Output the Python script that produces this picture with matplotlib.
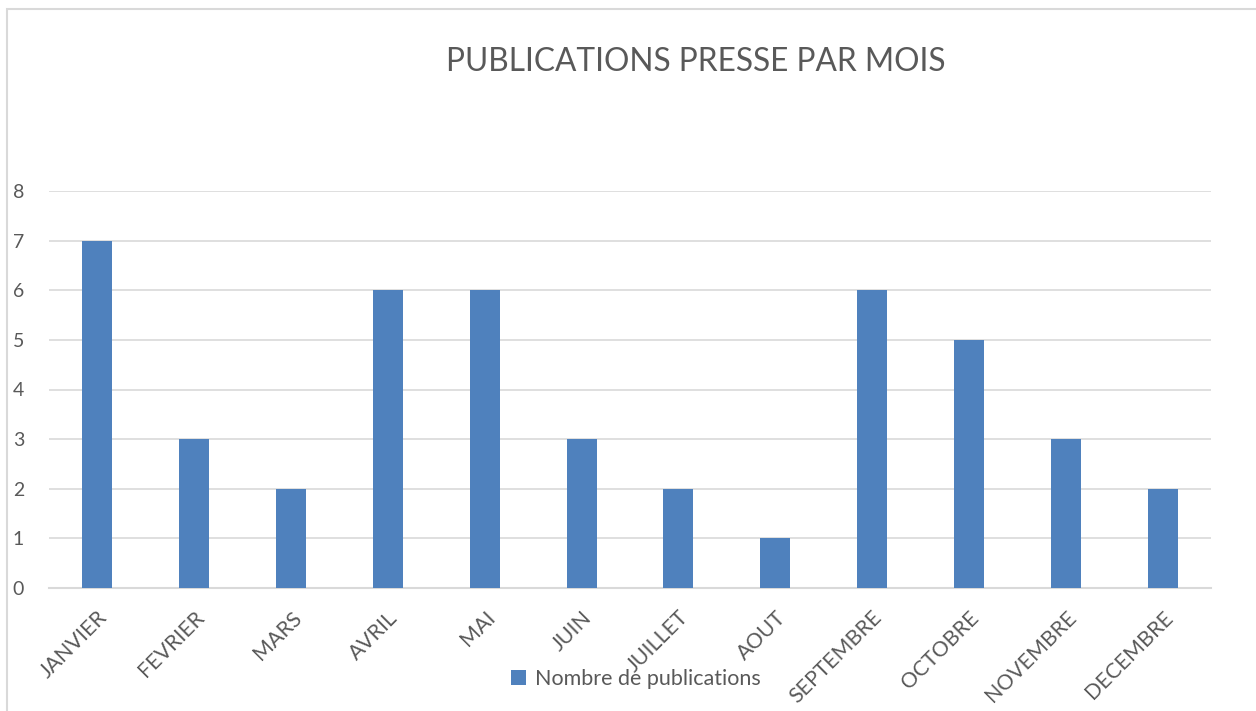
import matplotlib.pyplot as plt
from matplotlib.patches import Rectangle

# Data
mois = ["JANVIER", "FEVRIER", "MARS", "AVRIL", "MAI", "JUIN", "JUILLET",
        "AOUT", "SEPTEMBRE", "OCTOBRE", "NOVEMBRE", "DECEMBRE"]
publications = [7, 3, 2, 6, 6, 3, 2, 1, 6, 5, 3, 2]
y_ticks = [0, 1, 2, 3, 4, 5, 6, 7, 8]

plt.rcParams["font.family"] = ["Lato", "DejaVu Sans"]
text_color = "#595959"
grid_color = "#d9d9d9"
bar_color = "#4f81bd"

fig = plt.figure(figsize=(12.56, 7.11), dpi=100)

# Light border around the chart area
fig.patches.append(Rectangle((7 / 1256, -0.1), 1.2, 1 - 9 / 711 + 0.1,
                             transform=fig.transFigure, fill=False,
                             edgecolor=grid_color, linewidth=1.5))

ax = fig.add_axes([49 / 1256, 1 - 588 / 711, (1211 - 49) / 1256, (588 - 191) / 711])

x = range(len(mois))
ax.bar(x, publications, width=0.31, color=bar_color, label="Nombre de publications", zorder=3)

ax.set_xlim(-0.5, len(mois) - 0.5)
ax.set_ylim(0, 8)
ax.set_yticks(y_ticks)
ax.set_xticks(list(x))
ax.set_xticklabels(mois, rotation=45, ha="right", rotation_mode="anchor",
                   fontsize=15.3, color=text_color)
ax.tick_params(axis="y", labelsize=14, labelcolor=text_color, length=0, pad=22)
ax.tick_params(axis="x", length=0, pad=14)

ax.grid(axis="y", color=grid_color, linewidth=1.2, zorder=0)
for side in ["top", "right", "left"]:
    ax.spines[side].set_visible(False)
ax.spines["bottom"].set_color(grid_color)
ax.spines["bottom"].set_linewidth(1.5)
for lbl in ax.get_yticklabels():
    lbl.set_horizontalalignment("center")

fig.text(696 / 1256, 1 - 62 / 711, "PUBLICATIONS PRESSE PAR MOIS",
         ha="center", va="center", fontsize=22.8, color=text_color)

fig.legend(loc="center", bbox_to_anchor=(636 / 1256, 1 - 679 / 711), frameon=False,
           fontsize=15.5, labelcolor=text_color, handlelength=0.7, handleheight=0.7,
           handletextpad=0.4)

fig.savefig("out.png", dpi=100)
